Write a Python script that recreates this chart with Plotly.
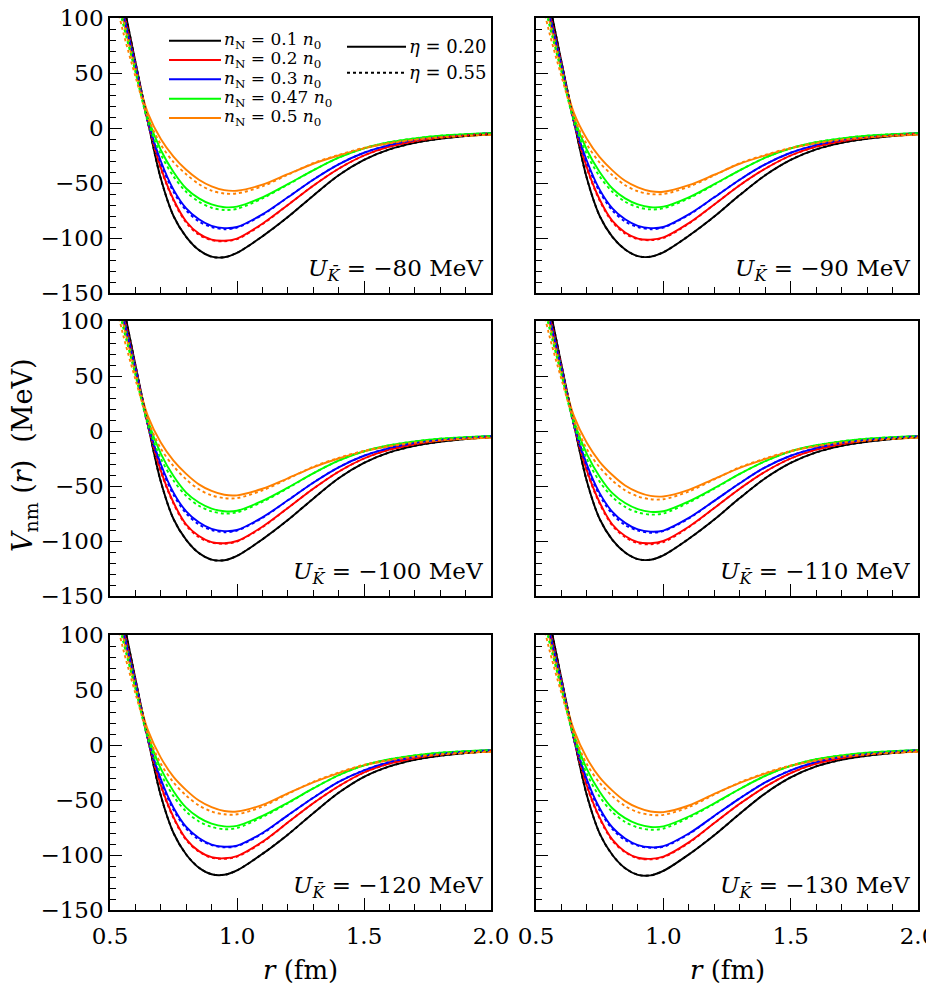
import plotly.graph_objects as go

# ---------------- data ----------------
r_fm = [0.50, 0.55, 0.60, 0.65, 0.70, 0.75, 0.80, 0.85, 0.90, 0.95, 1.00,
        1.10, 1.20, 1.30, 1.40, 1.50, 1.60, 1.70, 1.80, 1.90, 2.00]

density_labels = ["0.1", "0.2", "0.3", "0.47", "0.5"]
density_colors = ["#000000", "#ff0000", "#0000ff", "#00ff00", "#ff8000"]
eta_labels = ["0.20", "0.55"]
U_values = [-80, -90, -100, -110, -120, -130]

# order inside each list: n_N = 0.1, 0.2, 0.3, 0.47, 0.5 n0
V_m80_eta020 = [
    [175, 117, 60, 5, -46, -80, -99, -111, -117, -117.5, -113.5, -98.5, -81, -61.5, -43, -29, -19.5, -13.5, -9.8, -7.3, -5.5],
    [165, 110, 59, 5, -36, -65, -85, -96, -101.5, -102.5, -100.5, -87, -70, -52.5, -37, -25, -17, -12, -8.8, -6.6, -5],
    [160, 107, 58, 6, -30, -56, -73, -83, -89, -91, -90, -78.5, -63, -47, -33, -22.5, -15.5, -10.8, -7.9, -6, -4.8],
    [155, 103, 56, 9, -20, -40, -55, -64, -69.5, -72, -71.5, -63, -51, -38.5, -27, -18.5, -13, -9.4, -7, -5.6, -4.7],
    [150, 100, 53, 13, -10, -26, -38, -47, -53, -56.5, -57, -51.5, -42, -32.5, -25, -18.5, -14, -10.8, -8.6, -7.2, -6.2],
]
V_m80_eta055 = [
    [175, 117, 60, 5, -46, -80, -99, -111, -117, -117.5, -113.5, -98.5, -81, -61.5, -43, -29, -19.5, -13.5, -9.8, -7.3, -5.5],
    [163, 108, 58, 4, -37, -66, -86, -97, -102, -103, -101, -87.5, -70, -52.5, -37, -25, -17, -12, -8.8, -6.6, -5],
    [158, 105, 57, 4, -32, -58, -75, -85, -90, -92, -90.5, -79, -63, -47, -33, -22.5, -15.5, -10.8, -7.9, -6, -4.8],
    [148, 96, 51, 5, -24, -44, -58, -67, -72.5, -74.5, -73.5, -64, -51.5, -38.5, -27, -18.5, -13, -9.4, -7, -5.6, -4.7],
    [140, 89, 47, 9, -15, -31, -42, -51, -57, -59.5, -59.5, -53, -42.5, -32, -24.5, -18, -13.6, -10.5, -8.4, -7, -6],
]

V_m90_eta020 = [
    [175, 117, 60, 5, -46, -80, -99, -110.5, -116.5, -117, -113, -98, -80.5, -61, -43, -29, -19.5, -13.5, -9.8, -7.3, -5.5],
    [165, 110, 59, 5, -36, -65, -84.5, -95, -100.5, -101.5, -99.5, -86.5, -69.5, -52, -37, -25, -17, -12, -8.8, -6.6, -5],
    [160, 107, 58, 6, -30, -56, -73, -83, -89, -91, -90, -78.5, -63, -47, -33, -22.5, -15.5, -10.8, -7.9, -6, -4.8],
    [155, 103, 56, 9, -20, -40, -55, -64, -69.5, -72, -71.5, -63, -51, -38.5, -27, -18.5, -13, -9.4, -7, -5.6, -4.7],
    [150, 100, 53, 13, -10, -26.5, -38.5, -48, -54, -57.5, -58, -52, -42.5, -32.5, -25, -18.5, -14, -10.8, -8.6, -7.2, -6.2],
]
V_m90_eta055 = [
    [175, 117, 60, 5, -46, -80, -99, -110.5, -116.5, -117, -113, -98, -80.5, -61, -43, -29, -19.5, -13.5, -9.8, -7.3, -5.5],
    [163, 108, 58, 4, -37, -66, -85.5, -96, -101, -102, -100, -87, -69.5, -52, -37, -25, -17, -12, -8.8, -6.6, -5],
    [158, 105, 57, 4, -32, -58, -75, -85, -90, -92, -90.5, -79, -63, -47, -33, -22.5, -15.5, -10.8, -7.9, -6, -4.8],
    [148, 96, 51, 5, -24, -44, -58, -67, -72, -74, -73, -64, -51.5, -38.5, -27, -18.5, -13, -9.4, -7, -5.6, -4.7],
    [140, 89, 47, 9, -15, -31.5, -43, -52, -57.5, -60, -60, -53.5, -43, -32, -24.5, -18, -13.6, -10.5, -8.4, -7, -6],
]

V_m100_eta020 = [
    [175, 117, 60, 5, -46, -80, -99, -111, -117, -117.5, -113.5, -98.5, -81, -61.5, -43, -29, -19.5, -13.5, -9.8, -7.3, -5.5],
    [165, 110, 59, 5, -36, -65, -85, -95.5, -101, -102, -100, -87, -70, -52.5, -37, -25, -17, -12, -8.8, -6.6, -5],
    [160, 107, 58, 6, -30, -56, -73, -83, -89, -91, -90, -78.5, -63, -47, -33, -22.5, -15.5, -10.8, -7.9, -6, -4.8],
    [155, 103, 56, 9, -20.5, -41, -56, -65, -70.5, -73, -72.5, -63.5, -51.5, -38.5, -27, -18.5, -13, -9.4, -7, -5.6, -4.7],
    [150, 100, 53, 13, -10.5, -27, -39, -48.5, -54.5, -58, -58.5, -52.5, -43, -33, -25, -18.5, -14, -10.8, -8.6, -7.2, -6.2],
]
V_m100_eta055 = [
    [175, 117, 60, 5, -46, -80, -99, -111, -117, -117.5, -113.5, -98.5, -81, -61.5, -43, -29, -19.5, -13.5, -9.8, -7.3, -5.5],
    [163, 108, 58, 4, -37, -66, -86, -96.5, -101.5, -102.5, -100.5, -87.5, -70, -52.5, -37, -25, -17, -12, -8.8, -6.6, -5],
    [158, 105, 57, 4, -32, -58, -75, -85, -90, -92, -90.5, -79, -63, -47, -33, -22.5, -15.5, -10.8, -7.9, -6, -4.8],
    [148, 96, 51, 5, -25, -45, -59, -68, -73, -75, -74, -64.5, -52, -38.5, -27, -18.5, -13, -9.4, -7, -5.6, -4.7],
    [140, 89, 47, 9, -16, -32, -44, -53, -58.5, -61, -61, -54, -43.5, -32.5, -24.5, -18, -13.6, -10.5, -8.4, -7, -6],
]

V_m110_eta020 = [
    [175, 117, 60, 5, -46, -80, -99, -110.5, -116.5, -117, -113, -98, -80.5, -61, -43, -29, -19.5, -13.5, -9.8, -7.3, -5.5],
    [165, 110, 59, 5, -36, -65, -85, -95.5, -101, -102, -100, -87, -70, -52.5, -37, -25, -17, -12, -8.8, -6.6, -5],
    [160, 107, 58, 6, -30.5, -56.5, -73.5, -83.5, -89.5, -91.5, -90.5, -79, -63.5, -47.5, -33, -22.5, -15.5, -10.8, -7.9, -6, -4.8],
    [155, 103, 56, 9, -21, -41.5, -56.5, -65.5, -71, -73.5, -73, -64, -52, -39, -27.5, -18.5, -13, -9.4, -7, -5.6, -4.7],
    [150, 100, 53, 13, -11, -28, -40, -49.5, -55.5, -59, -59.5, -53.5, -43.5, -33.5, -25.5, -18.5, -14, -10.8, -8.6, -7.2, -6.2],
]
V_m110_eta055 = [
    [175, 117, 60, 5, -46, -80, -99, -110.5, -116.5, -117, -113, -98, -80.5, -61, -43, -29, -19.5, -13.5, -9.8, -7.3, -5.5],
    [163, 108, 58, 4, -37, -66, -86, -96.5, -102, -103, -101, -87.5, -70, -52.5, -37, -25, -17, -12, -8.8, -6.6, -5],
    [158, 105, 57, 4, -32.5, -58.5, -75.5, -85.5, -90.5, -92.5, -91, -79.5, -63.5, -47.5, -33, -22.5, -15.5, -10.8, -7.9, -6, -4.8],
    [148, 96, 51, 5, -25.5, -46, -60, -69, -74, -76, -75, -65, -52.5, -39, -27.5, -18.5, -13, -9.4, -7, -5.6, -4.7],
    [140, 89, 47, 9, -16.5, -33, -45, -54, -59.5, -62, -62, -55, -44, -33, -25, -18, -13.6, -10.5, -8.4, -7, -6],
]

V_m120_eta020 = [
    [175, 117, 60, 5, -46, -80, -99.5, -111.5, -117.5, -118, -114, -99, -81.5, -62, -43.5, -29, -19.5, -13.5, -9.8, -7.3, -5.5],
    [165, 110, 59, 5, -36.5, -65.5, -85.5, -96.5, -102, -103, -101, -88, -70.5, -53, -37.5, -25, -17, -12, -8.8, -6.6, -5],
    [160, 107, 58, 6, -31, -57, -74.5, -84.5, -90.5, -92.5, -91.5, -80, -64, -48, -33.5, -23, -15.5, -10.8, -7.9, -6, -4.8],
    [155, 103, 56, 9, -21.5, -42, -57, -66, -71.5, -74, -73.5, -64.5, -52.5, -39.5, -27.5, -18.5, -13, -9.4, -7, -5.6, -4.7],
    [150, 100, 53, 13, -11.5, -29, -41, -50.5, -56.5, -60, -60.5, -54.5, -44, -34, -25.5, -18.5, -14, -10.8, -8.6, -7.2, -6.2],
]
V_m120_eta055 = [
    [175, 117, 60, 5, -46, -80, -99.5, -111.5, -117.5, -118, -114, -99, -81.5, -62, -43.5, -29, -19.5, -13.5, -9.8, -7.3, -5.5],
    [163, 108, 58, 4, -37.5, -66.5, -86.5, -97, -102.5, -103.5, -101.5, -88.5, -70.5, -53, -37.5, -25, -17, -12, -8.8, -6.6, -5],
    [158, 105, 57, 4, -33, -59, -76, -86, -91, -93, -92, -80.5, -64, -48, -33.5, -23, -15.5, -10.8, -7.9, -6, -4.8],
    [148, 96, 51, 5, -26, -46.5, -60.5, -69.5, -74.5, -76.5, -75.5, -65.5, -53, -39.5, -27.5, -18.5, -13, -9.4, -7, -5.6, -4.7],
    [140, 89, 47, 9, -17, -34, -46, -55, -60.5, -63, -63, -56, -44.5, -33.5, -25, -18, -13.6, -10.5, -8.4, -7, -6],
]

V_m130_eta020 = [
    [175, 117, 60, 5, -46, -80.5, -100, -112, -118, -118.5, -114.5, -99.5, -82, -62.5, -44, -29.5, -19.5, -13.5, -9.8, -7.3, -5.5],
    [165, 110, 59, 5, -37, -66, -86, -97, -102.5, -103.5, -101.5, -88.5, -71, -53.5, -38, -25.5, -17, -12, -8.8, -6.6, -5],
    [160, 107, 58, 6, -31.5, -57.5, -75, -85, -91, -93, -92, -80.5, -64.5, -48.5, -34, -23, -15.5, -10.8, -7.9, -6, -4.8],
    [155, 103, 56, 9, -22, -42.5, -57.5, -66.5, -72, -74.5, -74, -65, -53, -40, -28, -19, -13, -9.4, -7, -5.6, -4.7],
    [150, 100, 53, 13, -12, -29.5, -41.5, -51, -57, -60.5, -61, -55, -44.5, -34.5, -26, -19, -14.2, -10.8, -8.6, -7.2, -6.2],
]
V_m130_eta055 = [
    [175, 117, 60, 5, -46, -80.5, -100, -112, -118, -118.5, -114.5, -99.5, -82, -62.5, -44, -29.5, -19.5, -13.5, -9.8, -7.3, -5.5],
    [163, 108, 58, 4, -38, -67, -87, -97.5, -103, -104, -102, -89, -71, -53.5, -38, -25.5, -17, -12, -8.8, -6.6, -5],
    [158, 105, 57, 4, -33.5, -59.5, -76.5, -86.5, -91.5, -93.5, -92.5, -81, -64.5, -48.5, -34, -23, -15.5, -10.8, -7.9, -6, -4.8],
    [148, 96, 51, 5, -26.5, -47, -61, -70, -75, -77, -76, -66, -53.5, -40, -28, -19, -13, -9.4, -7, -5.6, -4.7],
    [140, 89, 47, 9, -17.5, -34.5, -46.5, -55.5, -61, -63.5, -63.5, -56.5, -45, -34, -25.5, -18.5, -13.8, -10.5, -8.4, -7, -6],
]

panels_eta020 = [V_m80_eta020, V_m90_eta020, V_m100_eta020, V_m110_eta020, V_m120_eta020, V_m130_eta020]
panels_eta055 = [V_m80_eta055, V_m90_eta055, V_m100_eta055, V_m110_eta055, V_m120_eta055, V_m130_eta055]

# ---------------- layout geometry ----------------
W, H = 934, 992
OFF = 8   # the page body margin shifts the figure by this many pixels
col_px = [(110 - OFF, 491 - OFF), (536 - OFF, 918 - OFF)]
row_px = [(18 - OFF, 293 - OFF), (321 - OFF, 596 - OFF), (635 - OFF, 910 - OFF)]
FONT = "DejaVu Serif"
DOT = "3px,3px"


def px_x(v):
    return (v - OFF) / W


def px_y(v):
    return 1 - (v - OFF) / H


fig = go.Figure()
layout_axes = {}

for p, U in enumerate(U_values):
    row, col = divmod(p, 2)
    n = p + 1
    xname = "x" if n == 1 else f"x{n}"
    yname = "y" if n == 1 else f"y{n}"
    x0, x1 = col_px[col]
    y0, y1 = row_px[row]
    xdom = [x0 / W, x1 / W]
    ydom = [1 - y1 / H, 1 - y0 / H]
    common = dict(showline=True, mirror=True, linecolor="black", linewidth=1.6,
                  ticks="inside", ticklen=12, tickwidth=1.4, tickcolor="black",
                  showgrid=False, zeroline=False, automargin=False,
                  tickfont=dict(family=FONT, size=23, color="black"))
    layout_axes["xaxis" + ("" if n == 1 else str(n))] = dict(
        common, domain=xdom, anchor=yname, range=[0.5, 2.0], dtick=0.5, tick0=0.5,
        tickformat=".1f", showticklabels=(row == 2), ticklabeloverflow="allow",
        ticklabelstandoff=5,
        minor=dict(ticks="inside", ticklen=6, dtick=0.1, tickwidth=1.1, tickcolor="black"))
    layout_axes["yaxis" + ("" if n == 1 else str(n))] = dict(
        common, domain=ydom, anchor=xname, range=[-150, 100], dtick=50, tick0=0,
        showticklabels=(col == 0), ticklabeloverflow="allow",
        minor=dict(ticks="inside", ticklen=6, dtick=10, tickwidth=1.1, tickcolor="black"))

    for eta_i, (data, dash) in enumerate([(panels_eta020[p], "solid"), (panels_eta055[p], DOT)]):
        for k in range(5):
            fig.add_trace(go.Scatter(
                x=r_fm, y=data[k], mode="lines", xaxis=xname, yaxis=yname,
                line=dict(color=density_colors[k], width=1.9, dash=dash,
                          shape="spline", smoothing=0.9),
                name=f"n_N = {density_labels[k]} n0, eta = {eta_labels[eta_i]}",
                showlegend=False, hoverinfo="skip"))

    # panel label
    fig.add_annotation(
        text=f"<i>U</i><sub><i>K\u0304</i></sub> = \u2212{abs(U)} MeV",
        xref=f"{xname} domain", yref=f"{yname} domain", x=0.985, y=0.085,
        xanchor="right", yanchor="middle", showarrow=False,
        font=dict(family=FONT, size=23, color="black"))

# ---------------- legends (key samples + labels) ----------------
leg1_rows_px = [40.7, 60.0, 79.3, 98.7, 118.0]
for k in range(5):
    yy = px_y(leg1_rows_px[k])
    fig.add_shape(type="line", xref="paper", yref="paper",
                  x0=px_x(169), x1=px_x(221), y0=yy, y1=yy,
                  line=dict(color=density_colors[k], width=1.9))
    fig.add_annotation(text=f"<i>n</i><sub>N</sub> = {density_labels[k]} <i>n</i><sub>0</sub>",
                       xref="paper", yref="paper", x=px_x(222), y=yy,
                       xanchor="left", yanchor="middle", showarrow=False,
                       font=dict(family=FONT, size=17, color="black"))
leg2_rows_px = [46.7, 72.7]
for eta, dash, ypx in zip(eta_labels, ["solid", DOT], leg2_rows_px):
    yy = px_y(ypx)
    fig.add_shape(type="line", xref="paper", yref="paper",
                  x0=px_x(347), x1=px_x(406), y0=yy, y1=yy,
                  line=dict(color="black", width=1.9, dash=dash))
    fig.add_annotation(text=f"<i>\u03b7</i> = {eta}", xref="paper", yref="paper",
                       x=px_x(407), y=yy, xanchor="left", yanchor="middle", showarrow=False,
                       font=dict(family=FONT, size=18, color="black"))

# axis titles
fig.add_annotation(text="<i>V</i><sub>nm</sub> (<i>r</i>)  (MeV)", xref="paper", yref="paper",
                   x=px_x(24), y=px_y(455), textangle=-90, showarrow=False,
                   xanchor="center", yanchor="middle",
                   font=dict(family=FONT, size=27, color="black"))
for col in range(2):
    cx = (col_px[col][0] + col_px[col][1]) / 2 / W
    fig.add_annotation(text="<i>r</i> (fm)", xref="paper", yref="paper",
                       x=cx, y=px_y(970), showarrow=False,
                       xanchor="center", yanchor="middle",
                       font=dict(family=FONT, size=26, color="black"))

fig.update_layout(
    width=W, height=H, margin=dict(l=0, r=0, t=0, b=0, autoexpand=False),
    paper_bgcolor="white", plot_bgcolor="white",
    font=dict(family=FONT, color="black"),
    showlegend=False,
    **layout_axes,
)

fig.write_html("out.html")
